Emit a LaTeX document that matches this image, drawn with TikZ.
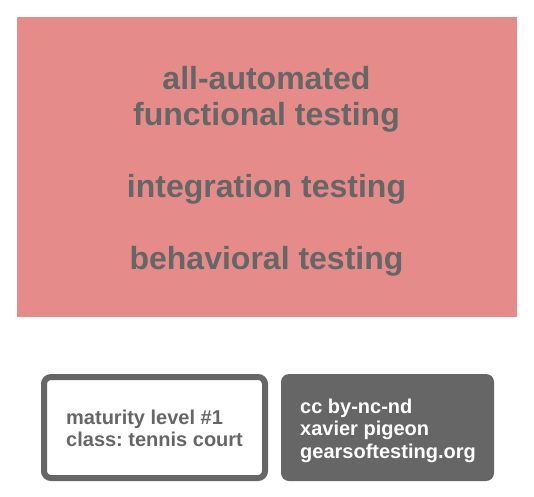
\documentclass[tikz,border=0pt]{standalone}
\usepackage{fontspec}
\setmainfont{Liberation Sans}
\usetikzlibrary{positioning}
\frenchspacing
\definecolor{levelred}{HTML}{E58B8A}
\definecolor{textgray}{HTML}{666666}
\tikzset{
  bigtext/.style={font=\bfseries\fontsize{32pt}{36pt}\selectfont, text=textgray, align=center},
  smalltext/.style={font=\bfseries\fontsize{20pt}{22.5pt}\selectfont, align=left, inner sep=0pt, anchor=base west},
  classbox/.style={draw=textgray, line width=6pt, rounded corners=7pt, minimum width=221pt, minimum height=101pt},
  licbox/.style={fill=textgray, rounded corners=8pt, minimum width=213pt, minimum height=107pt}
}
\begin{document}
\begin{tikzpicture}[x=1pt, y=-1pt]
\useasboundingbox (0,0) rectangle (534,496);
%level
\fill[levelred] (17,17) rectangle (517,317);
\node[bigtext] (fts) at (266.5,99) {all-automated\\functional testing};
\node[bigtext, anchor=base] (its) at (266.5,197) {integration testing};
\node[bigtext, anchor=base] (bts) at (266.5,269) {behavioral testing};

%boxes
\node[classbox] (class) at (154.5,427.5) {};
\node[licbox] (lic) at (387.5,427.5) {};
\node[smalltext, text=textgray] (classtext) at (66,446.7) {maturity level \#1\\class: tennis court};
\node[smalltext, text=white] (lictext) at (300,458.3) {cc by-nc-nd\\xavier pigeon\\gearsoftesting.org};
\end{tikzpicture}
\end{document}
